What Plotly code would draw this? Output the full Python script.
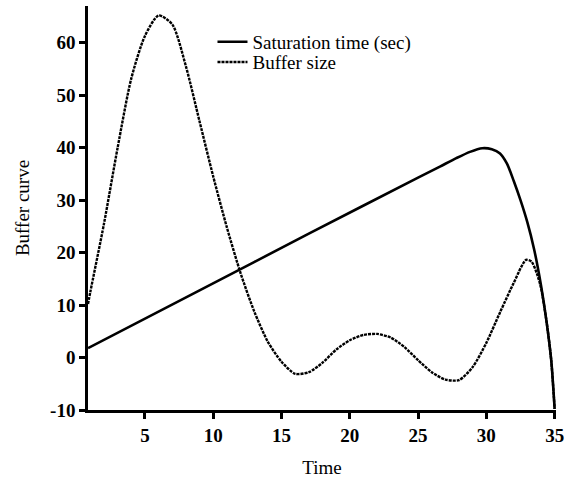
import plotly.graph_objects as go

sat_x = [0.83, 9, 17, 25, 26.6, 27.8, 28.8, 29.7, 30.4, 31.0, 31.5, 32.0, 32.5, 33.0, 33.5, 34.0, 34.4, 34.75, 35]
sat_y = [1.8, 12.8, 23.6, 34.3, 36.4, 38.0, 39.2, 39.9, 39.7, 38.9, 37.0, 33.7, 30.0, 25.8, 20.6, 13.8, 7.0, -0.5, -9.8]

buf_x = [0.83, 1, 2, 3, 4, 5, 6, 7, 8, 9, 10, 11, 12, 13, 14, 15, 16, 17, 18, 19, 20, 21, 22, 23, 24, 25,
         26, 27, 28, 29, 30, 31, 32, 32.9, 33.3, 33.7, 34.0, 34.4, 34.75, 35]
buf_y = [10.2, 12.5, 25.5, 40, 53.2, 61.3, 65.2, 63.5, 55.5, 45, 34.5, 24.8, 16.1, 8.8, 3, -0.8, -3.1, -2.8, -1, 1.5,
         3.3, 4.3, 4.5, 3.8, 2, -0.5, -2.8, -4.2, -4.3, -1.8, 2.8, 8.6, 14.2, 18.6, 18.3, 16.0, 13.3, 7.0, -0.5, -9.8]

x_ticks = [5, 10, 15, 20, 25, 30, 35]
y_ticks = [-10, 0, 10, 20, 30, 40, 50, 60]

fig = go.Figure()
fig.add_trace(go.Scatter(x=sat_x, y=sat_y, mode="lines", name="Saturation time (sec)", legend="legend",
                         line=dict(color="black", width=2.6, shape="spline", smoothing=0.7)))
fig.add_trace(go.Scatter(x=buf_x, y=buf_y, mode="lines", name="Buffer size", legend="legend2",
                         line=dict(color="black", width=2.4, dash="3px,1px", shape="spline", smoothing=0.7)))

font_family = "Liberation Serif, Times New Roman, serif"
txt = dict(size=19, family=font_family, color="#000000")
leg_common = dict(xanchor="left", yanchor="middle", bgcolor="rgba(0,0,0,0)",
                  font=txt, itemwidth=30)
fig.update_layout(
    template="none",
    width=568, height=478,
    margin=dict(l=88, r=12, t=6, b=68),
    paper_bgcolor="white", plot_bgcolor="white",
    font=txt,
    showlegend=True,
    legend=dict(x=0.266, y=0.911, **leg_common),
    legend2=dict(x=0.266, y=0.861, **leg_common),
    xaxis=dict(range=[0.83, 35.1], tickvals=x_ticks, ticktext=[f"<b>{v}</b>" for v in x_ticks],
               showgrid=False, zeroline=False, showline=True, linecolor="black", linewidth=2.5,
               ticks="outside", ticklen=6, tickwidth=2.5, tickcolor="black", automargin=False,
               tickfont=txt,
               title=dict(text="Time", font=txt, standoff=20)),
    yaxis=dict(range=[-10, 67], tickvals=y_ticks, ticktext=[f"<b>{v}</b>" for v in y_ticks],
               showgrid=False, zeroline=False, showline=True, linecolor="black", linewidth=2.5,
               ticks="outside", ticklen=6, tickwidth=2.5, tickcolor="black", automargin=False,
               tickfont=txt,
               title=dict(text="Buffer curve", font=txt, standoff=16)),
)

fig.write_html("out.html")
